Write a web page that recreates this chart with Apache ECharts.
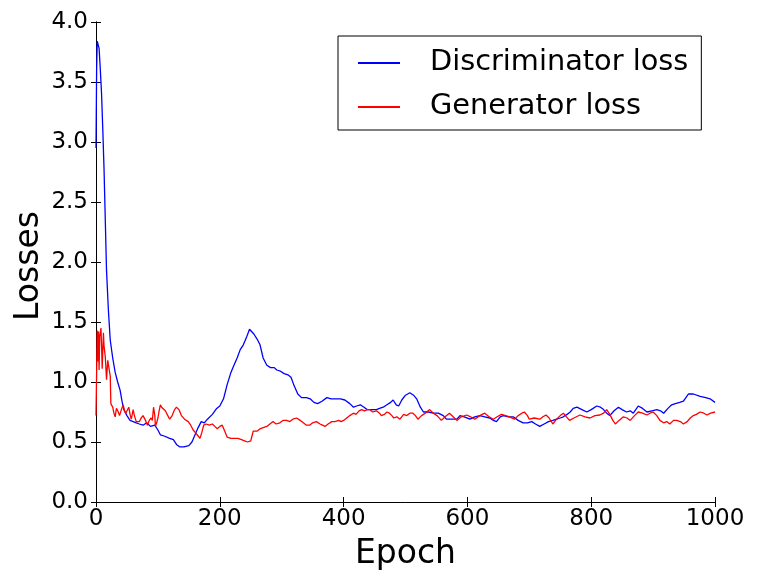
<!DOCTYPE html>
<html>
<head>
<meta charset="utf-8">
<script src="https://cdn.jsdelivr.net/npm/echarts@6/dist/echarts.min.js"></script>
<style>html,body{margin:0;padding:0;background:#fff;}#c{width:757px;height:581px;}</style>
</head>
<body>
<div id="c"></div>
<script>
var xTicks = [0, 200, 400, 600, 800, 1000];
var yTicks = [0, 0.5, 1, 1.5, 2, 2.5, 3, 3.5, 4];
var seriesNames = ['Discriminator loss', 'Generator loss'];

var discEpochs = [0,1,2,3,5,7,9,11,13,15,17,20,23,27,31,35,39,42,45,50,55,60,65,70,76,82,88,95,100,104,110,119,125,130,135,142,150,155,160,165,170,175,180,188,195,200,206,212,218,222,228,233,238,243,248,251,255,260,265,270,276,282,288,292,298,304,310,315,320,326,332,340,346,352,358,365,373,380,389,395,402,410,416,421,427,433,438,445,453,458,464,470,476,480,485,489,494,500,507,513,518,524,529,537,545,553,561,566,573,583,588,595,604,612,620,628,636,642,647,653,658,666,674,682,690,697,704,710,717,724,731,738,744,750,755,761,766,771,777,785,793,800,809,815,820,825,830,837,844,850,857,863,868,872,876,883,890,898,906,912,917,924,930,936,943,949,953,957,965,976,985,992,1000];
var discLoss = [2.95,3.6,3.84,3.83,3.78,3.6,3.4,3.1,2.77,2.35,1.93,1.6,1.35,1.2,1.08,1.0,0.93,0.84,0.77,0.72,0.68,0.67,0.66,0.65,0.64,0.66,0.63,0.64,0.6,0.56,0.55,0.53,0.52,0.48,0.46,0.46,0.47,0.5,0.56,0.62,0.67,0.66,0.69,0.73,0.78,0.8,0.86,0.98,1.08,1.13,1.2,1.27,1.31,1.37,1.44,1.45,1.4,1.36,1.31,1.2,1.14,1.12,1.12,1.1,1.09,1.07,1.06,1.04,0.97,0.9,0.87,0.87,0.86,0.83,0.82,0.84,0.87,0.86,0.86,0.86,0.85,0.82,0.79,0.8,0.81,0.79,0.77,0.77,0.77,0.78,0.79,0.81,0.83,0.85,0.81,0.8,0.85,0.89,0.91,0.89,0.86,0.79,0.75,0.75,0.74,0.74,0.72,0.69,0.69,0.69,0.72,0.71,0.69,0.71,0.72,0.71,0.7,0.68,0.67,0.71,0.72,0.71,0.71,0.68,0.66,0.66,0.67,0.65,0.63,0.65,0.67,0.68,0.69,0.7,0.71,0.73,0.75,0.78,0.79,0.77,0.75,0.77,0.8,0.79,0.77,0.74,0.72,0.76,0.79,0.77,0.75,0.76,0.74,0.77,0.8,0.78,0.75,0.76,0.77,0.76,0.74,0.78,0.81,0.82,0.83,0.84,0.87,0.9,0.9,0.88,0.87,0.86,0.83];

var genEpochs = [0,2,3,4,5,6,8,9,10,12,13,15,17,19,21,23,24,26,27,29,31,33,34,36,38,41,44,46,48,50,53,55,57,60,62,65,70,73,76,80,83,86,89,91,93,95,96,98,100,102,104,106,108,112,116,119,123,127,130,134,138,143,149,153,157,162,165,168,171,174,178,183,188,192,196,200,204,208,212,218,224,229,235,240,245,250,252,254,260,265,270,276,281,286,291,297,302,308,313,318,324,330,335,340,345,350,356,362,366,370,375,381,386,392,396,400,405,410,416,420,425,429,434,438,442,447,453,458,461,466,470,474,478,481,486,491,497,502,507,512,516,520,526,532,539,545,551,558,564,571,577,583,590,599,605,612,620,628,635,642,648,655,662,668,676,682,688,692,697,700,708,717,722,727,732,738,744,750,755,760,765,772,782,790,798,806,814,820,825,830,835,839,845,852,858,863,870,876,883,890,895,900,906,911,917,922,927,933,938,944,949,955,960,965,970,976,982,987,993,1000];
var genLoss = [0.72,1.43,1.17,1.42,1.1,1.38,1.45,1.3,1.11,1.41,1.3,1.21,1.02,1.18,1.18,1.05,0.82,0.83,0.79,0.74,0.71,0.78,0.77,0.75,0.72,0.77,0.81,0.76,0.74,0.76,0.79,0.73,0.69,0.77,0.72,0.67,0.67,0.7,0.72,0.68,0.64,0.68,0.7,0.68,0.79,0.72,0.63,0.66,0.7,0.76,0.81,0.79,0.79,0.76,0.72,0.69,0.72,0.77,0.79,0.77,0.72,0.69,0.67,0.64,0.6,0.57,0.55,0.53,0.58,0.64,0.65,0.64,0.65,0.63,0.61,0.63,0.64,0.59,0.54,0.53,0.53,0.53,0.52,0.51,0.5,0.51,0.55,0.59,0.59,0.61,0.62,0.63,0.65,0.67,0.65,0.66,0.68,0.68,0.67,0.69,0.7,0.68,0.66,0.64,0.64,0.66,0.67,0.65,0.64,0.63,0.65,0.67,0.67,0.68,0.67,0.68,0.7,0.72,0.74,0.73,0.76,0.77,0.76,0.77,0.77,0.75,0.76,0.74,0.72,0.73,0.75,0.74,0.72,0.7,0.71,0.69,0.73,0.72,0.74,0.74,0.72,0.69,0.72,0.74,0.77,0.74,0.72,0.68,0.71,0.74,0.71,0.68,0.71,0.725,0.71,0.69,0.72,0.74,0.71,0.69,0.71,0.73,0.72,0.71,0.69,0.72,0.74,0.75,0.72,0.69,0.7,0.69,0.71,0.725,0.7,0.65,0.69,0.72,0.74,0.71,0.68,0.7,0.725,0.71,0.7,0.72,0.725,0.74,0.77,0.73,0.68,0.65,0.68,0.71,0.7,0.68,0.72,0.75,0.74,0.725,0.74,0.75,0.72,0.68,0.66,0.67,0.65,0.68,0.68,0.67,0.65,0.67,0.7,0.72,0.73,0.75,0.74,0.725,0.74,0.75];

function pairs(xs, ys) { return xs.map(function (x, i) { return [x, ys[i]]; }); }

var FONT = 'DejaVu Sans';
var axisLine = { show: true, lineStyle: { color: '#000', width: 1 } };
var tickIn = { show: true, inside: true, length: 5, lineStyle: { color: '#000', width: 1 } };

var chart = echarts.init(document.getElementById('c'), null, { renderer: 'canvas' });
chart.setOption({
  animation: false,
  backgroundColor: '#fff',
  grid: { left: 96, top: 22, right: 42, bottom: 79, containLabel: false },
  legend: {
    orient: 'vertical',
    left: 338, top: 36,
    padding: [12, 13, 8, 20],
    itemGap: 14,
    itemWidth: 42, itemHeight: 2,
    icon: 'rect',
    borderColor: '#000', borderWidth: 1, borderRadius: 0,
    textStyle: { fontFamily: FONT, fontSize: 28.8, color: '#000', lineHeight: 30, padding: [0, 0, 0, 25] },
    data: seriesNames
  },
  xAxis: [{
    type: 'value', min: xTicks[0], max: xTicks[xTicks.length - 1], interval: 200,
    name: 'Epoch', nameLocation: 'middle', nameGap: 36,
    nameTextStyle: { fontFamily: FONT, fontSize: 33, color: '#000' },
    axisLine: axisLine, axisTick: tickIn, splitLine: { show: false },
    axisLabel: { fontFamily: FONT, fontSize: 23, color: '#000', margin: 6, formatter: function (v) { return String(v); } }
  }, {
    type: 'value', position: 'top', min: xTicks[0], max: xTicks[xTicks.length - 1], interval: 200,
    axisLine: axisLine, axisTick: tickIn, splitLine: { show: false }, axisLabel: { show: false }
  }],
  yAxis: [{
    type: 'value', min: yTicks[0], max: yTicks[yTicks.length - 1], interval: 0.5,
    name: 'Losses', nameLocation: 'middle', nameGap: 50, nameMoveOverlap: false,
    nameTextStyle: { fontFamily: FONT, fontSize: 33, color: '#000', padding: [0, 8, 0, 0] },
    axisLine: axisLine, axisTick: tickIn, splitLine: { show: false },
    axisLabel: { fontFamily: FONT, fontSize: 23, color: '#000', margin: 8, formatter: function (v) { return v.toFixed(1); } }
  }, {
    type: 'value', position: 'right', min: yTicks[0], max: yTicks[yTicks.length - 1], interval: 0.5,
    axisLine: axisLine, axisTick: tickIn, splitLine: { show: false }, axisLabel: { show: false }
  }],
  series: [{
    name: seriesNames[0], type: 'line', showSymbol: false, symbol: 'none',
    data: pairs(discEpochs, discLoss),
    itemStyle: { color: '#0000ff' },
    lineStyle: { color: '#0000ff', width: 1.3 }
  }, {
    name: seriesNames[1], type: 'line', showSymbol: false, symbol: 'none',
    data: pairs(genEpochs, genLoss),
    itemStyle: { color: '#ff0000' },
    lineStyle: { color: '#ff0000', width: 1.3 }
  }]
});
</script>
</body>
</html>
